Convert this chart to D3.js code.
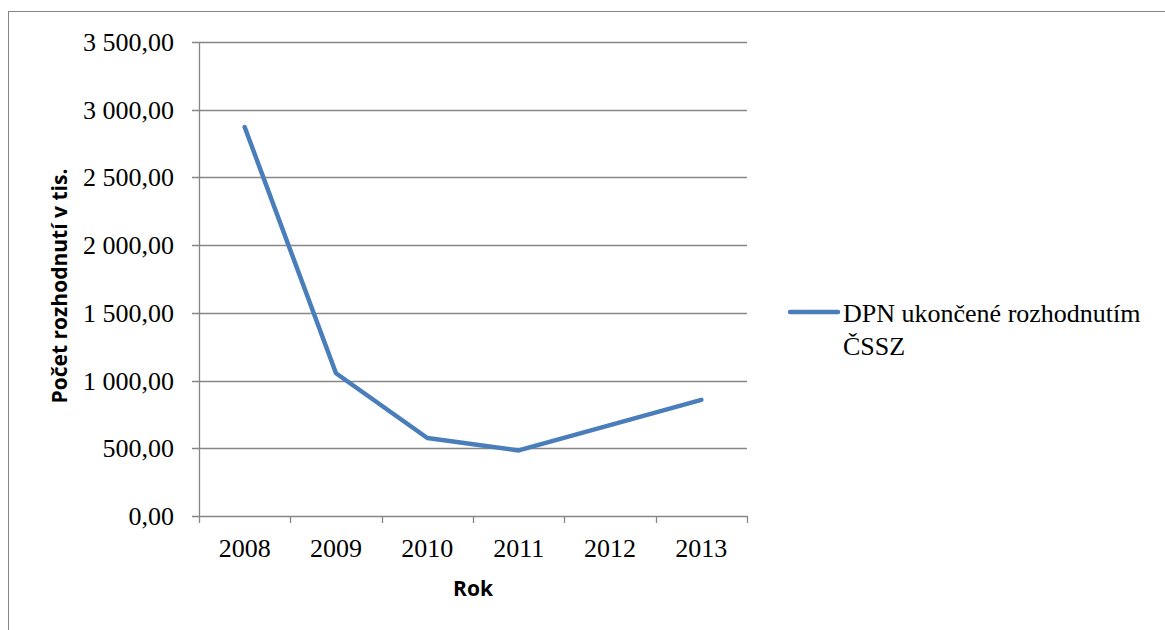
<!DOCTYPE html>
<html>
<head>
<meta charset="utf-8">
<script src="https://cdn.jsdelivr.net/npm/d3@7/dist/d3.min.js"></script>
<style>
  body { margin: 0; background: #fff; }
  .serif { font-family: "Liberation Serif", "Times New Roman", serif; font-size: 26px; fill: #000; }
  .title { font-family: "Open Sans", "Liberation Sans", sans-serif; font-weight: bold; font-size: 21px; fill: #000; }
</style>
</head>
<body>
<div id="chart"></div>
<script>
// data (thousands of decisions)
var years = ["2008", "2009", "2010", "2011", "2012", "2013"];
var values = [2872, 1054, 576, 484, 671, 858];
var yTicks = [0, 500, 1000, 1500, 2000, 2500, 3000, 3500];
var seriesName = ["DPN ukončené rozhodnutím", "ČSSZ"];

var W = 1165, H = 630;
var margin = {top: 42, left: 199, right: 1165 - 747, bottom: 630 - 516};
var width = W - margin.left - margin.right,
    height = H - margin.top - margin.bottom;

var fmt = d3.formatLocale({decimal: ",", thousands: " ", grouping: [3], currency: ["", ""]}).format(",.2f");

var svg = d3.select("#chart").append("svg")
  .attr("width", W)
  .attr("height", H);

// outer frame
svg.append("rect")
  .attr("x", 8.5).attr("y", 11.5)
  .attr("width", 1170).attr("height", 640)
  .attr("fill", "none").attr("stroke", "#868686");

var g = svg.append("g")
  .attr("transform", "translate(" + margin.left + "," + margin.top + ")");

var x = d3.scaleBand().domain(years).range([0, width]);
var y = d3.scaleLinear().domain([0, 3500]).range([height, 0]);

// gridlines
g.selectAll(".grid").data(yTicks).enter().append("line")
  .attr("x1", -7).attr("x2", width)
  .attr("y1", function(d) { return Math.round(y(d)) + 0.5; })
  .attr("y2", function(d) { return Math.round(y(d)) + 0.5; })
  .attr("stroke", "#868686").attr("stroke-width", 1.3);

// y axis line
g.append("line")
  .attr("x1", 0.5).attr("x2", 0.5)
  .attr("y1", 0).attr("y2", height)
  .attr("stroke", "#868686").attr("stroke-width", 1.3);

// y labels
g.selectAll(".ylab").data(yTicks).enter().append("text")
  .attr("class", "serif")
  .attr("x", -25)
  .attr("y", function(d) { return y(d) + 9; })
  .attr("text-anchor", "end")
  .text(function(d) { return fmt(d); });

// x ticks at category boundaries
var bounds = years.map(function(d) { return x(d); }).concat([width]);
g.selectAll(".xtick").data(bounds).enter().append("line")
  .attr("x1", function(d) { return Math.round(d) + 0.5; })
  .attr("x2", function(d) { return Math.round(d) + 0.5; })
  .attr("y1", height).attr("y2", height + 7)
  .attr("stroke", "#868686").attr("stroke-width", 1.3);

g.selectAll(".xlab").data(years).enter().append("text")
  .attr("class", "serif")
  .attr("x", function(d) { return x(d) + x.bandwidth() / 2; })
  .attr("y", height + 41)
  .attr("text-anchor", "middle")
  .text(function(d) { return d; });

// axis titles
svg.append("text")
  .attr("class", "title")
  .attr("x", margin.left + width / 2)
  .attr("y", 596)
  .attr("text-anchor", "middle")
  .text("Rok");

svg.append("text")
  .attr("class", "title")
  .attr("transform", "translate(67," + 286 + ") rotate(-90)")
  .attr("text-anchor", "middle")
  .text("Počet rozhodnutí v tis.");

// the series
var line = d3.line()
  .x(function(d, i) { return x(years[i]) + x.bandwidth() / 2; })
  .y(function(d) { return y(d); });

g.append("path")
  .datum(values)
  .attr("d", line)
  .attr("fill", "none")
  .attr("stroke", "#4a7ebb")
  .attr("stroke-width", 4.5)
  .attr("stroke-linecap", "round")
  .attr("stroke-linejoin", "round");

// legend
svg.append("line")
  .attr("x1", 790).attr("x2", 838)
  .attr("y1", 312).attr("y2", 312)
  .attr("stroke", "#4a7ebb").attr("stroke-width", 4.5)
  .attr("stroke-linecap", "round");

var lt = svg.append("text")
  .attr("class", "serif")
  .attr("x", 843).attr("y", 322);
lt.selectAll("tspan").data(seriesName).enter().append("tspan")
  .attr("x", 843)
  .attr("dy", function(d, i) { return i ? 33 : 0; })
  .text(function(d) { return d; });
</script>
</body>
</html>
